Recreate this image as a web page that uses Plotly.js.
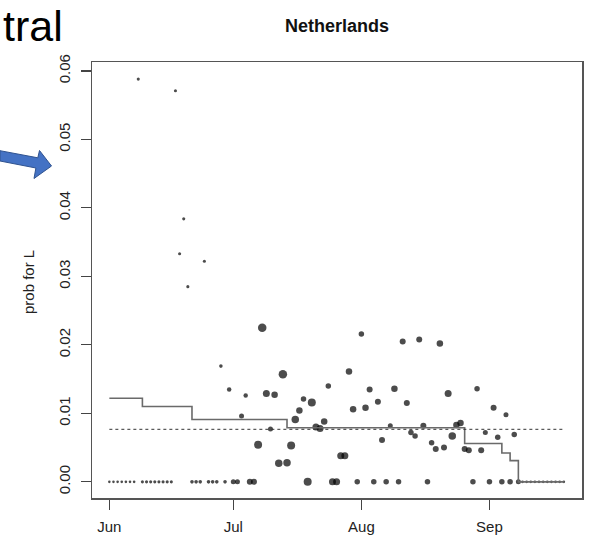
<!DOCTYPE html>
<html>
<head>
<meta charset="utf-8">
<script src="https://cdn.plot.ly/plotly-3.0.1.min.js"></script>
<style>html,body{margin:0;padding:0;background:#fff;}#chart{width:590px;height:542px;}</style>
</head>
<body>
<div id="chart"></div>
<script>
// ---- data ----
var year = '2020';
var dates = [
 '06-01','06-02','06-03','06-04','06-05','06-06','06-07','06-08','06-09','06-10',
 '06-11','06-12','06-13','06-14','06-15','06-16','06-17','06-18','06-19','06-20',
 '06-21','06-22','06-23','06-24','06-25','06-26','06-27','06-28','06-29','06-30',
 '07-01','07-02','07-03','07-04','07-05','07-06','07-07','07-08','07-09','07-10',
 '07-11','07-12','07-13','07-14','07-15','07-16','07-17','07-18','07-19','07-20',
 '07-21','07-22','07-23','07-24','07-25','07-26','07-27','07-28','07-29','07-30',
 '07-31','08-01','08-02','08-03','08-04','08-05','08-06','08-07','08-08','08-09',
 '08-10','08-11','08-12','08-13','08-14','08-15','08-16','08-17','08-18','08-19',
 '08-20','08-21','08-22','08-23','08-24','08-25','08-26','08-27','08-28','08-29',
 '08-30','08-31','09-01','09-02','09-03','09-04','09-05','09-06','09-07','09-08',
 '09-09','09-10','09-11','09-12','09-13','09-14','09-15','09-16','09-17','09-18',
 '09-19'
];
var probL = [
 0,0,0,0,0,0,0,0.0588,0,0,
 0,0,0,0,0,0,0.0571,0.0333,0.0384,0.0285,
 0,0,0,0.0322,0,0,0,0.0169,0,0.0135,
 0,0,0.0096,0.0126,0,0,0.0054,0.0225,0.0129,0.0077,
 0.0127,0.0027,0.0157,0.0028,0.0053,0.0091,0.0104,0.0121,0,0.0116,
 0.0080,0.0078,0.0088,0.0140,0,0,0.0038,0.0038,0.0161,0.0106,
 0,0.0216,0.0108,0.0135,0,0.0117,0.0061,0,0.0082,0.0136,
 0,0.0205,0.0115,0.0072,0.0067,0.0208,0.0082,0,0.0057,0.0048,
 0.0202,0.0050,0.0129,0.0067,0.0083,0.0086,0.0048,0.0046,0,0.0136,
 0.0046,0.0072,0,0.0108,0.0065,0,0.0098,0,0.0069,0,
 0,0,0,0,0,0,0,0,0,0,
 0
];
// relative weight of each day (drawn as marker diameter)
var weight = [
 2,2,2,2,2,2,2,2.5,2.5,2.5,
 2.5,2.5,2.5,2.5,2.5,2.5,2.5,2.5,2.5,2.5,
 3,3,3,2.5,3,3,3,3,3,3.5,
 4,4,4,3.5,5,5,7,7.5,6,4,
 5.5,6.5,7.5,6.5,7,6.5,5.5,4.5,7,7,
 6,6,5.5,4.5,6,6,6,6,5.5,5.5,
 4.5,4.5,5.5,5,4.5,5,5,4.5,4,5.5,
 4.5,5,5,4.5,4.5,5,5,4.5,4.5,5,
 5.5,5,6,6.5,5.5,5.5,5,5,4.5,4.5,
 5,4,4.5,5,4.5,4.5,4,4.5,4.5,4,
 2,2,2,2,2,2,2,2,2,2,
 2
];
var stepDates = ['06-01','06-09','06-21','07-14','08-26','09-04','09-06','09-08','09-19'];
var stepValues = [0.0122,0.0110,0.0091,0.0079,0.0056,0.0042,0.0031,0,0];
var meanDates = ['06-01','09-19'];
var meanValue = 0.00767;
var tickDates = ['06-01','07-01','08-01','09-01'];
var tickLabels = ['Jun','Jul','Aug','Sep'];
var yTicks = [0,0.01,0.02,0.03,0.04,0.05,0.06];

function fullDate(d){ return year + '-' + d; }

// ---- layout geometry ----
var W = 590, H = 542, ML = 92, MR = 8, MT = 62, MB = 44;
var PW = W - ML - MR, PH = H - MT - MB;
function px(x){ return (x - ML) / PW; }
function py(y){ return (H - MB - y) / PH; }

var font = 'Liberation Sans, Arial, Helvetica, sans-serif';

var traces = [
 {
  x: dates.map(fullDate), y: probL, type: 'scatter', mode: 'markers',
  marker: {color: '#000', size: weight.map(function(w){ return w + (w >= 3.5 ? 1 : 0.6); }), line: {width: 0}},
  hoverinfo: 'x+y', showlegend: false
 },
 {
  x: stepDates.map(fullDate), y: stepValues, type: 'scatter', mode: 'lines',
  line: {color: '#6a6a6a', width: 1.6, shape: 'hv'}, showlegend: false
 },
 {
  x: meanDates.map(fullDate), y: [meanValue, meanValue], type: 'scatter', mode: 'lines',
  line: {color: '#333', width: 1, dash: 'dot'}, showlegend: false
 }
];

// arrow polygon (pixel coordinates of the slide overlay)
var arrowPts = [[0,150.7],[37.8,157.8],[39.5,150.5],[51.5,166],[34,178.5],[35.9,168],[0,161]];
var arrowPath = 'M' + arrowPts.map(function(p){ return px(p[0]) + ',' + py(p[1]); }).join(' L') + ' Z';

var layout = {
 width: W, height: H,
 margin: {l: ML, r: MR, t: MT, b: MB, pad: 0},
 paper_bgcolor: '#fff', plot_bgcolor: '#fff',
 font: {family: font, size: 15, color: '#222'},
 title: {text: '<b>Netherlands</b>', font: {family: font, size: 18, color: '#111'},
         xref: 'paper', x: 0.5, xanchor: 'center', yref: 'container', y: 1 - 26/H, yanchor: 'middle'},
 xaxis: {
  type: 'date',
  range: ['2020-05-27 19:12', '2020-09-23 09:36'],
  tickvals: tickDates.map(fullDate), ticktext: tickLabels,
  ticks: 'outside', ticklen: 10, tickwidth: 1.2, tickcolor: '#444',
  showline: true, mirror: true, linecolor: '#555', linewidth: 1.5,
  showgrid: false, zeroline: false,
  tickfont: {family: font, size: 15, color: '#222'},
  ticklabelstandoff: 4
 },
 yaxis: {
  range: [-0.00236, 0.0613],
  tickvals: yTicks, tickformat: '.2f',
  tickangle: -90,
  ticks: 'outside', ticklen: 10, tickwidth: 1.2, tickcolor: '#444',
  showline: true, mirror: true, linecolor: '#555', linewidth: 1.5,
  showgrid: false, zeroline: false,
  tickfont: {family: font, size: 15, color: '#222'},
  ticklabelstandoff: 5
 },
 annotations: [
  {text: 'prob for L', xref: 'paper', yref: 'paper', x: px(28), y: 0.5 - (282 - (MT + PH/2))/PH,
   textangle: -90, showarrow: false, xanchor: 'center', yanchor: 'middle',
   font: {family: font, size: 15, color: '#222'}},
  {text: 'tral', xref: 'paper', yref: 'paper', x: px(2), y: py(1),
   showarrow: false, xanchor: 'left', yanchor: 'top', borderpad: 0,
   font: {family: font, size: 43, color: '#000'}}
 ],
 shapes: [
  {type: 'path', xref: 'paper', yref: 'paper', path: arrowPath,
   fillcolor: '#4472C4', line: {color: '#2F528F', width: 1}, layer: 'above'}
 ]
};

Plotly.newPlot('chart', traces, layout, {staticPlot: true, displayModeBar: false});
</script>
</body>
</html>
